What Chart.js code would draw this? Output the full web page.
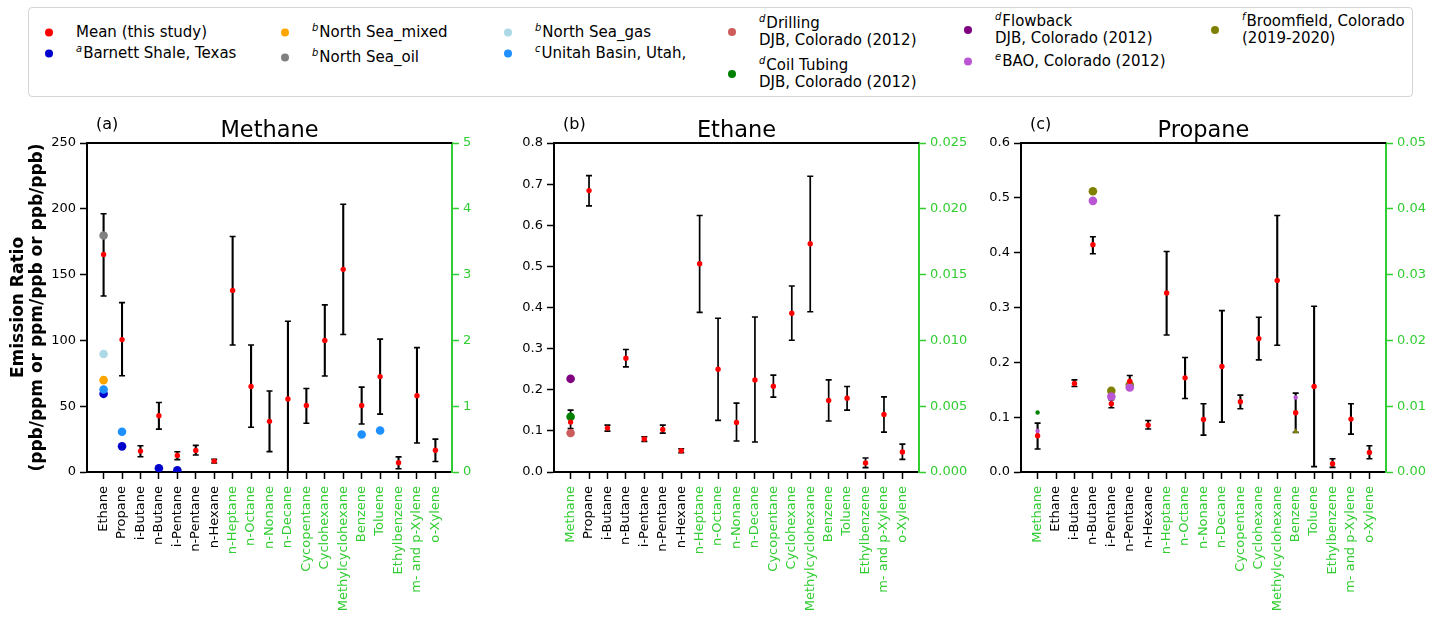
<!DOCTYPE html>
<html>
<head>
<meta charset="utf-8">
<script src="https://cdn.jsdelivr.net/npm/chart.js@4"></script>
<style>
  html, body { margin: 0; padding: 0; background: #fff; }
  body { width: 1431px; height: 617px; position: relative; overflow: hidden; font-family: "DejaVu Sans", sans-serif; }
  .legend-box { position: absolute; left: 28px; top: 7px; width: 1385px; height: 90px; border: 1px solid #d4d4d4; border-radius: 4px; box-sizing: border-box; }
  .entry { position: absolute; transform: translateY(-50%); display: flex; align-items: center; font-size: 15px; line-height: 17px; color: #000; white-space: nowrap; }
  .dot { width: 8px; height: 8px; border-radius: 50%; margin-left: -4px; margin-right: 23px; flex: none; }
  .entry sup { font-size: 10px; font-style: italic; line-height: 0; vertical-align: 0; position: relative; top: -6px; margin-right: 1px; }
  canvas { position: absolute; top: 100px; }
</style>
</head>
<body>
<div class="legend-box"></div>
<div id="legend"></div>
<canvas id="panelA" width="490" height="517" style="left:0px"></canvas>
<canvas id="panelB" width="485" height="517" style="left:490px"></canvas>
<canvas id="panelC" width="456" height="517" style="left:975px"></canvas>
<script>
// ---- species on the x axes ----
const speciesA = ['Ethane', 'Propane', 'i-Butane', 'n-Butane', 'i-Pentane', 'n-Pentane', 'n-Hexane',
  'n-Heptane', 'n-Octane', 'n-Nonane', 'n-Decane', 'Cycopentane', 'Cyclohexane', 'Methylcyclohexane',
  'Benzene', 'Toluene', 'Ethylbenzene', 'm- and p-Xylene', 'o-Xylene'];
const speciesB = ['Methane', 'Propane', 'i-Butane', 'n-Butane', 'i-Pentane', 'n-Pentane', 'n-Hexane',
  'n-Heptane', 'n-Octane', 'n-Nonane', 'n-Decane', 'Cycopentane', 'Cyclohexane', 'Methylcyclohexane',
  'Benzene', 'Toluene', 'Ethylbenzene', 'm- and p-Xylene', 'o-Xylene'];
const speciesC = ['Methane', 'Ethane', 'i-Butane', 'n-Butane', 'i-Pentane', 'n-Pentane', 'n-Hexane',
  'n-Heptane', 'n-Octane', 'n-Nonane', 'n-Decane', 'Cycopentane', 'Cyclohexane', 'Methylcyclohexane',
  'Benzene', 'Toluene', 'Ethylbenzene', 'm- and p-Xylene', 'o-Xylene'];

// species read against the green right-hand axis
const rightAxisSpecies = ['Methane', 'n-Heptane', 'n-Octane', 'n-Nonane', 'n-Decane', 'Cycopentane',
  'Cyclohexane', 'Methylcyclohexane', 'Benzene', 'Toluene', 'Ethylbenzene', 'm- and p-Xylene', 'o-Xylene'];

// ---- (a) ratios to methane: mean and error range ----
const meanA = [165.3, 100.6, 15.9, 42.7, 12.6, 16.4, 8.3, 2.76, 1.30, 0.77, 1.11, 1.01, 2.00, 3.08, 1.01, 1.45, 0.14, 1.16, 0.33];
const lowA  = [133.7, 73.1, 11.6, 32.6, 9.4, 12.9, 6.8, 1.93, 0.68, 0.31, -0.07, 0.74, 1.46, 2.09, 0.73, 0.88, 0.05, 0.44, 0.16];
const highA = [196.2, 128.7, 20.0, 52.8, 15.4, 20.2, 9.6, 3.58, 1.93, 1.23, 2.29, 1.27, 2.54, 4.07, 1.29, 2.02, 0.23, 1.89, 0.50];

// ---- (b) ratios to ethane ----
const meanB = [0.00379, 0.6843, 0.1068, 0.2766, 0.0801, 0.1035, 0.0518, 0.01582, 0.00781, 0.00377, 0.0070, 0.00652, 0.01206, 0.01734, 0.00543, 0.00561, 0.00068, 0.00437, 0.00152];
const lowB  = [0.0033, 0.6471, 0.0995, 0.2556, 0.0744, 0.0946, 0.0469, 0.01213, 0.00392, 0.00235, 0.00228, 0.00569, 0.01001, 0.01218, 0.00387, 0.0047, 0.00033, 0.00303, 0.00096];
const highB = [0.0047, 0.7207, 0.114, 0.2977, 0.0857, 0.114, 0.0566, 0.01949, 0.01168, 0.00523, 0.01178, 0.00736, 0.01413, 0.02247, 0.0070, 0.0065, 0.00106, 0.00571, 0.00212];

// ---- (c) ratios to propane ----
const meanC = [0.00551, null, 0.1614, 0.4144, 0.1244, 0.1656, 0.0855, 0.0272, 0.01431, 0.00799, 0.01603, 0.01067, 0.02027, 0.02912, 0.0090, 0.0130, 0.00126, 0.00804, 0.00298];
const lowC  = [0.00349, null, 0.1559, 0.3980, 0.1171, 0.1547, 0.0783, 0.02083, 0.01117, 0.00561, 0.00758, 0.00961, 0.01704, 0.01926, 0.00602, 0.00081, 0.00071, 0.00576, 0.00202];
const highC = [0.00743, null, 0.1680, 0.4289, 0.1317, 0.1759, 0.0940, 0.03352, 0.01739, 0.01037, 0.02452, 0.01168, 0.02351, 0.03898, 0.01198, 0.02518, 0.00202, 0.01037, 0.0040];

// ---- literature values ----
const barnettA       = { 'Ethane': 59.4, 'Propane': 19.5, 'n-Butane': 2.8, 'i-Pentane': 1.3 };
const unitahA        = { 'Ethane': 62.7, 'Propane': 30.6, 'Benzene': 0.57, 'Toluene': 0.63 };
const northSeaMixedA = { 'Ethane': 69.8 };
const northSeaOilA   = { 'Ethane': 179.7 };
const northSeaGasA   = { 'Ethane': 89.7 };
const drillingB      = { 'Methane': 0.00296 };
const coilTubingB    = { 'Methane': 0.0042 };
const flowbackB      = { 'Methane': 0.00708 };
const coilTubingC    = { 'Methane': 0.00905 };
const baoC           = { 'Methane': 0.00622, 'n-Butane': 0.4945, 'i-Pentane': 0.1377, 'n-Pentane': 0.1541, 'Benzene': 0.01133 };
const broomfieldC    = { 'n-Butane': 0.512, 'i-Pentane': 0.148, 'n-Pentane': 0.159, 'Benzene': 0.00617 };

// ---- axis tick labels ----
const leftTicksA  = ['0', '50', '100', '150', '200', '250'];
const rightTicksA = ['0', '1', '2', '3', '4', '5'];
const leftTicksB  = ['0.0', '0.1', '0.2', '0.3', '0.4', '0.5', '0.6', '0.7', '0.8'];
const rightTicksB = ['0.000', '0.005', '0.010', '0.015', '0.020', '0.025'];
const leftTicksC  = ['0.0', '0.1', '0.2', '0.3', '0.4', '0.5', '0.6'];
const rightTicksC = ['0.00', '0.01', '0.02', '0.03', '0.04', '0.05'];

// ---- colours ----
const GREEN = '#32cd32';
const palette = {
  mean: '#ff0000', barnett: '#0000cd', northSeaMixed: '#ffa500', northSeaOil: '#808080',
  northSeaGas: '#add8e6', unitah: '#1e90ff', drilling: '#cd5c5c', coilTubing: '#008000',
  flowback: '#800080', bao: '#ba55d3', broomfield: '#808000'
};

const FONT = "'DejaVu Sans', sans-serif";
Chart.defaults.font.family = FONT;

// legend
const legendItems = [
  { c: palette.mean,          x: 49,   y: 32, html: 'Mean (this study)' },
  { c: palette.barnett,       x: 49,   y: 53, html: '<sup>a</sup>Barnett Shale, Texas' },
  { c: palette.northSeaMixed, x: 285,  y: 32, html: '<sup>b</sup>North Sea_mixed' },
  { c: palette.northSeaOil,   x: 285,  y: 57, html: '<sup>b</sup>North Sea_oil' },
  { c: palette.northSeaGas,   x: 508,  y: 32, html: '<sup>b</sup>North Sea_gas' },
  { c: palette.unitah,        x: 508,  y: 53, html: '<sup>c</sup>Unitah Basin, Utah,' },
  { c: palette.drilling,      x: 732,  y: 32, html: '<sup>d</sup>Drilling<br>DJB, Colorado (2012)' },
  { c: palette.coilTubing,    x: 732,  y: 74, html: '<sup>d</sup>Coil Tubing<br>DJB, Colorado (2012)' },
  { c: palette.flowback,      x: 968,  y: 30, html: '<sup>d</sup>Flowback<br>DJB, Colorado (2012)' },
  { c: palette.bao,           x: 968,  y: 61, html: '<sup>e</sup>BAO, Colorado (2012)' },
  { c: palette.broomfield,    x: 1215, y: 30, html: '<sup>f</sup>Broomfield, Colorado<br>(2019-2020)' }
];
const legendEl = document.getElementById('legend');
legendItems.forEach(it => {
  const d = document.createElement('div');
  d.className = 'entry';
  d.style.left = it.x + 'px';
  d.style.top = it.y + 'px';
  d.innerHTML = `<span class="dot" style="background:${it.c}"></span><span>${it.html}</span>`;
  legendEl.appendChild(d);
});

// black error bars with caps, drawn below the markers
const errorBars = {
  id: 'errorBars',
  beforeDatasetsDraw(chart, args, o) {
    const { ctx, chartArea: a } = chart;
    const xs = chart.scales.x;
    ctx.save();
    ctx.beginPath();
    ctx.rect(a.left, a.top, a.right - a.left, a.bottom - a.top);
    ctx.clip();
    ctx.strokeStyle = '#000';
    chart.data.datasets.forEach(ds => {
      if (!ds.withErrors) return;
      const ys = chart.scales[ds.yAxisID];
      ds.data.forEach(p => {
        const x = xs.getPixelForValue(p.x);
        const yl = ys.getPixelForValue(p.lo);
        const yh = ys.getPixelForValue(p.hi);
        ctx.lineWidth = o.width;
        ctx.beginPath(); ctx.moveTo(x, yl); ctx.lineTo(x, yh); ctx.stroke();
        ctx.lineWidth = 1.6;
        ctx.beginPath();
        ctx.moveTo(x - o.cap, yl); ctx.lineTo(x + o.cap, yl);
        ctx.moveTo(x - o.cap, yh); ctx.lineTo(x + o.cap, yh);
        ctx.stroke();
      });
    });
    ctx.restore();
  }
};

// top frame line, panel title and panel tag
const panelText = {
  id: 'panelText',
  afterDraw(chart, args, o) {
    const { ctx, chartArea: a } = chart;
    ctx.save();
    ctx.strokeStyle = '#000';
    ctx.lineWidth = 2;
    ctx.beginPath(); ctx.moveTo(a.left - 1, a.top); ctx.lineTo(a.right, a.top); ctx.stroke();
    ctx.fillStyle = '#000';
    ctx.textBaseline = 'alphabetic';
    ctx.font = `22.5px ${FONT}`;
    ctx.textAlign = 'center';
    ctx.fillText(o.title, (a.left + a.right) / 2, a.top - 6);
    ctx.font = `16px ${FONT}`;
    ctx.textAlign = 'left';
    ctx.fillText(o.tag, a.left + 9, a.top - 14);
    ctx.restore();
  }
};

const onRight = s => rightAxisSpecies.includes(s);

function buildPanel(cfg) {
  const sp = cfg.species;
  const datasets = [];
  // means with their error ranges, one dataset per axis
  [false, true].forEach(right => {
    const pts = [];
    sp.forEach((s, i) => {
      if (onRight(s) !== right || cfg.mean[i] == null) return;
      pts.push({ x: i, y: cfg.mean[i], lo: cfg.low[i], hi: cfg.high[i] });
    });
    datasets.push({
      label: 'Mean (this study)', data: pts, yAxisID: right ? 'y2' : 'y', withErrors: true,
      pointRadius: 2.7, pointBackgroundColor: palette.mean, pointBorderWidth: 0,
      borderColor: palette.mean, showLine: false, clip: 0
    });
  });
  // literature comparison points
  cfg.refs.forEach(ref => {
    [false, true].forEach(right => {
      const pts = Object.keys(ref.values)
        .filter(s => onRight(s) === right)
        .map(s => ({ x: sp.indexOf(s), y: ref.values[s] }));
      if (!pts.length) return;
      const compact = cfg.compactRight && right;
      datasets.push({
        label: ref.label, data: pts, yAxisID: right ? 'y2' : 'y',
        pointRadius: compact ? (ref.triangle ? 3.2 : 2.2) : 4.3,
        pointStyle: compact && ref.triangle ? 'triangle' : 'circle',
        pointBackgroundColor: ref.color, pointBorderWidth: 0, borderColor: ref.color,
        showLine: false, clip: 0
      });
    });
  });

  const leftVals = cfg.leftTicks.map(Number);
  const rightVals = cfg.rightTicks.map(Number);
  const pad = 0.9;

  const yTitle = cfg.yTitle ? {
    display: true, text: cfg.yTitle, color: '#000',
    font: { family: FONT, size: 17, weight: 'bold', lineHeight: '19px' },
    padding: { top: 9, bottom: 0 }
  } : { display: false };

  return new Chart(document.getElementById(cfg.canvas), {
    type: 'scatter',
    data: { datasets },
    plugins: [errorBars, panelText],
    options: {
      responsive: false, animation: false, devicePixelRatio: 1,
      layout: { padding: { top: 43, left: 0, right: 0, bottom: 0 } },
      plugins: {
        legend: { display: false }, tooltip: { enabled: false },
        errorBars: { width: cfg.errWidth, cap: 3 },
        panelText: { title: cfg.title, tag: cfg.tag }
      },
      scales: {
        x: {
          type: 'linear', min: -pad, max: sp.length - 1 + pad,
          afterBuildTicks: s => { s.ticks = sp.map((_, i) => ({ value: i })); },
          afterFit: s => { s.height = 145; },
          ticks: {
            autoSkip: false, minRotation: 90, maxRotation: 90, padding: 7,
            font: { family: FONT, size: 13 },
            color: c => onRight(sp[Math.round(c.tick.value)]) ? GREEN : '#000',
            callback: v => sp[Math.round(v)]
          },
          grid: { display: true, drawOnChartArea: false, drawTicks: true, tickLength: 7, tickColor: '#000', tickWidth: 1.5 },
          border: { display: true, color: '#000', width: 2 }
        },
        y: {
          position: 'left', min: 0, max: leftVals[leftVals.length - 1],
          afterBuildTicks: s => { s.ticks = leftVals.map(v => ({ value: v })); },
          afterFit: s => { s.width = cfg.leftW; },
          ticks: {
            padding: 4, color: '#000', font: { family: FONT, size: 13 },
            callback: (v, i) => cfg.leftTicks[i]
          },
          grid: { display: true, drawOnChartArea: false, drawTicks: true, tickLength: 7, tickColor: '#000', tickWidth: 1.5 },
          border: { display: true, color: '#000', width: 2 },
          title: yTitle
        },
        y2: {
          position: 'right', min: 0, max: rightVals[rightVals.length - 1],
          afterBuildTicks: s => { s.ticks = rightVals.map(v => ({ value: v })); },
          afterFit: s => { s.width = cfg.rightW; },
          ticks: {
            padding: 4, color: GREEN, font: { family: FONT, size: 13 },
            callback: (v, i) => cfg.rightTicks[i]
          },
          grid: { display: true, drawOnChartArea: false, drawTicks: true, tickLength: 7, tickColor: GREEN, tickWidth: 1.5 },
          border: { display: true, color: GREEN, width: 2 }
        }
      }
    }
  });
}

buildPanel({
  canvas: 'panelA', species: speciesA, mean: meanA, low: lowA, high: highA,
  leftTicks: leftTicksA, rightTicks: rightTicksA, leftW: 87, rightW: 38,
  title: 'Methane', tag: '(a)', errWidth: 2.1,
  yTitle: ['Emission Ratio', '(ppb/ppm or ppm/ppb or ppb/ppb)'],
  refs: [
    { label: 'North Sea_oil', color: palette.northSeaOil, values: northSeaOilA },
    { label: 'North Sea_gas', color: palette.northSeaGas, values: northSeaGasA },
    { label: 'North Sea_mixed', color: palette.northSeaMixed, values: northSeaMixedA },
    { label: 'Unitah Basin, Utah', color: palette.unitah, values: unitahA },
    { label: 'Barnett Shale, Texas', color: palette.barnett, values: barnettA }
  ]
});

buildPanel({
  canvas: 'panelB', species: speciesB, mean: meanB, low: lowB, high: highB,
  leftTicks: leftTicksB, rightTicks: rightTicksB, leftW: 64, rightW: 56,
  title: 'Ethane', tag: '(b)', errWidth: 1.7,
  refs: [
    { label: 'Coil Tubing DJB, Colorado (2012)', color: palette.coilTubing, values: coilTubingB },
    { label: 'Flowback DJB, Colorado (2012)', color: palette.flowback, values: flowbackB },
    { label: 'Drilling DJB, Colorado (2012)', color: palette.drilling, values: drillingB }
  ]
});

buildPanel({
  canvas: 'panelC', species: speciesC, mean: meanC, low: lowC, high: highC,
  leftTicks: leftTicksC, rightTicks: rightTicksC, leftW: 46, rightW: 45,
  title: 'Propane', tag: '(c)', errWidth: 2.1, compactRight: true,
  refs: [
    { label: 'BAO, Colorado (2012)', color: palette.bao, values: baoC },
    { label: 'Broomfield, Colorado (2019-2020)', color: palette.broomfield, values: broomfieldC, triangle: true },
    { label: 'Coil Tubing DJB, Colorado (2012)', color: palette.coilTubing, values: coilTubingC }
  ]
});
</script>
</body>
</html>
